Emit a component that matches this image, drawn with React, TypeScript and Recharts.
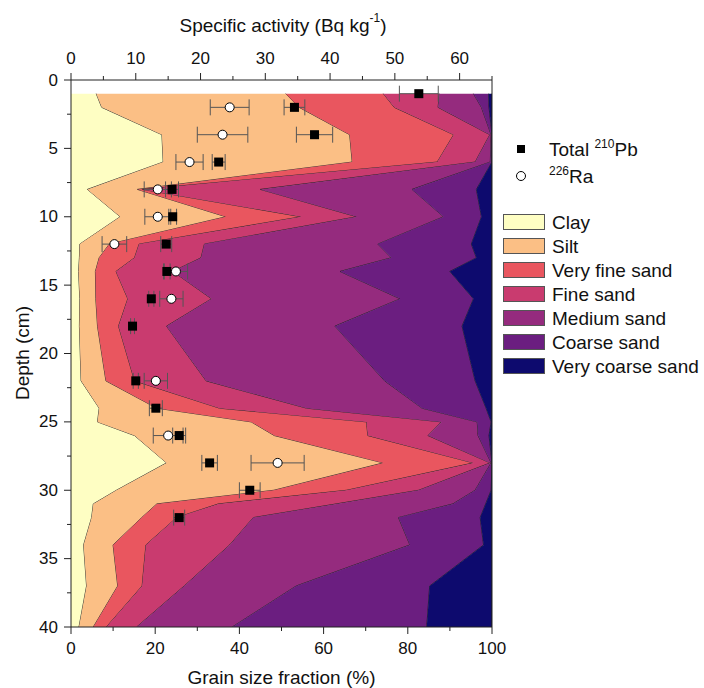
import {
  ComposedChart,
  Area,
  Scatter,
  XAxis,
  YAxis,
  ErrorBar,
  ReferenceLine,
  Legend,
} from 'recharts';

const FONT = 'Arial, "Liberation Sans", Helvetica, sans-serif';

// grain size sampling depths (cm) and fractions (%) per class
const depths = [1, 2, 4, 6, 8, 10, 12, 13, 14, 16, 18, 22, 24, 25, 26, 28, 30, 31, 32, 34, 37, 40];
const clay = [6.0, 7.3, 21.6, 21.9, 3.9, 11.7, 2.1, 2.0, 1.8, 2.1, 2.0, 2.4, 6.7, 6.3, 15.1, 22.7, 10.8, 5.3, 4.9, 3.0, 3.7, 1.9];
const silt = [45.0, 46.9, 44.6, 44.9, 11.9, 25.1, 7.0, 4.7, 4.0, 3.8, 4.3, 5.9, 13.7, 36.5, 33.2, 51.5, 37.4, 15.1, 11.9, 7.0, 7.4, 3.4];
const veryFineSand = [23.2, 22.6, 24.7, 20.2, 1.2, 17.9, 7.1, 8.4, 4.9, 7.6, 5.0, 6.8, 14.9, 27.4, 22.2, 21.4, 17.3, 14.6, 8.3, 7.8, 5.8, 3.1];
const fineSand = [13.3, 10.4, 8.6, 9.0, 28.0, 13.2, 15.5, 15.8, 13.5, 19.9, 11.4, 17.0, 20.7, 17.8, 14.3, 4.0, 17.1, 28.0, 18.2, 19.9, 10.0, 7.2];
const mediumSand = [8.1, 10.3, 0.3, 3.6, 36.0, 20.6, 41.2, 45.2, 39.7, 44.8, 40.0, 42.4, 27.4, 8.5, 11.9, 0.2, 13.4, 27.7, 34.5, 42.8, 26.6, 22.7];
const coarseSand = [3.6, 1.8, 0.2, 0.4, 15.3, 9.0, 22.2, 20.2, 26.1, 17.4, 30.2, 21.5, 15.2, 3.3, 2.6, 0.2, 3.8, 7.8, 19.4, 17.5, 31.7, 46.2];
const veryCoarseSand = [0.8, 0.7, 0.0, 0.0, 3.7, 2.5, 4.9, 3.7, 10.0, 4.4, 7.1, 4.0, 1.4, 0.2, 0.7, 0.0, 0.2, 1.5, 2.8, 2.0, 14.8, 15.5];

// specific activity (Bq/kg) with 1-sigma errors
const pbDepth = [1, 2, 4, 6, 8, 10, 12, 14, 16, 18, 22, 24, 26, 28, 30, 32];
const pbActivity = [53.7, 34.5, 37.6, 22.8, 15.6, 15.7, 14.7, 14.8, 12.4, 9.5, 10.0, 13.1, 16.7, 21.4, 27.6, 16.7];
const pbError = [3.0, 1.6, 2.8, 1.0, 1.0, 0.6, 0.85, 0.5, 0.4, 0.3, 0.4, 1.0, 1.0, 1.2, 1.6, 0.85];

const raDepth = [2, 4, 6, 8, 10, 12, 14, 16, 22, 26, 28];
const raActivity = [24.5, 23.4, 18.3, 13.4, 13.4, 6.7, 16.2, 15.5, 13.1, 15.0, 31.9];
const raError = [3.0, 3.9, 2.1, 2.1, 2.0, 1.9, 1.8, 1.8, 1.8, 2.3, 4.1];

const depthTicks = [0, 2.5, 5, 7.5, 10, 12.5, 15, 17.5, 20, 22.5, 25, 27.5, 30, 32.5, 35, 37.5, 40];
const grainTicks = [0, 10, 20, 30, 40, 50, 60, 70, 80, 90, 100];
const activityTicks = [0, 5, 10, 15, 20, 25, 30, 35, 40, 45, 50, 55, 60, 65];

const grainClasses = [
  { key: 'clay', name: 'Clay', color: '#FEFEC3', values: clay },
  { key: 'silt', name: 'Silt', color: '#FBBF85', values: silt },
  { key: 'vfs', name: 'Very fine sand', color: '#E9565F', values: veryFineSand },
  { key: 'fs', name: 'Fine sand', color: '#C93B6F', values: fineSand },
  { key: 'ms', name: 'Medium sand', color: '#952B7E', values: mediumSand },
  { key: 'cs', name: 'Coarse sand', color: '#6B1E80', values: coarseSand },
  { key: 'vcs', name: 'Very coarse sand', color: '#0D0A6E', values: veryCoarseSand },
];

const grainData = depths.map((depth, i) => {
  const row: Record<string, number> = { depth };
  grainClasses.forEach((c) => {
    row[c.key] = c.values[i];
  });
  return row;
});

const pbData = pbDepth.map((depth, i) => ({ depth, activity: pbActivity[i], err: pbError[i] }));
const raData = raDepth.map((depth, i) => ({ depth, activity: raActivity[i], err: raError[i] }));

const AXIS_COLOR = '#222';

function DepthTick(props: any) {
  const { x, y, payload } = props;
  const major = payload.value % 5 === 0;
  return (
    <g>
      <line x1={x} x2={x - (major ? 7 : 4)} y1={y} y2={y} stroke={AXIS_COLOR} />
      {major && (
        <text x={x - 13} y={y} textAnchor="end" dominantBaseline="central" fontSize={17} fontFamily={FONT} fill="#111">
          {payload.value}
        </text>
      )}
    </g>
  );
}

function GrainTick(props: any) {
  const { x, y, payload } = props;
  const major = payload.value % 20 === 0;
  return (
    <g>
      <line x1={x} x2={x} y1={y} y2={y + (major ? 7 : 4)} stroke={AXIS_COLOR} />
      {major && (
        <text x={x} y={y + 21} textAnchor="middle" dominantBaseline="central" fontSize={17} fontFamily={FONT} fill="#111">
          {payload.value}
        </text>
      )}
    </g>
  );
}

function ActivityTick(props: any) {
  const { x, y, payload } = props;
  const major = payload.value % 10 === 0;
  return (
    <g>
      <line x1={x} x2={x} y1={y} y2={y - (major ? 7 : 4)} stroke={AXIS_COLOR} />
      {major && (
        <text x={x} y={y - 22} textAnchor="middle" dominantBaseline="central" fontSize={17} fontFamily={FONT} fill="#111">
          {payload.value}
        </text>
      )}
    </g>
  );
}

const SquareShape = (p: any) => <rect x={p.cx - 4.5} y={p.cy - 4.5} width={9} height={9} fill="#000" />;
const CircleShape = (p: any) => <circle cx={p.cx} cy={p.cy} r={4.5} fill="#fff" stroke="#000" strokeWidth={1} />;

function renderLegend() {
  return (
    <div style={{ fontFamily: FONT, fontSize: 19, color: '#111', lineHeight: 1 }}>
      <div style={{ display: 'flex', alignItems: 'center', height: 26 }}>
        <svg width={54} height={26}>
          <rect x={22} y={9} width={8} height={8} fill="#000" />
        </svg>
        <span>
          Total <span style={{ fontSize: 12, position: 'relative', top: -8 }}>210</span>Pb
        </span>
      </div>
      <div style={{ display: 'flex', alignItems: 'center', height: 28 }}>
        <svg width={54} height={28}>
          <circle cx={26} cy={14} r={4.5} fill="#fff" stroke="#000" />
        </svg>
        <span>
          <span style={{ fontSize: 12, position: 'relative', top: -8 }}>226</span>Ra
        </span>
      </div>
      <div style={{ height: 20 }} />
      {grainClasses.map((c) => (
        <div key={c.key} style={{ display: 'flex', alignItems: 'center', height: 24 }}>
          <div
            style={{
              marginLeft: 8,
              width: 42,
              height: 16,
              boxSizing: 'border-box',
              border: '1px solid #555',
              background: c.color,
            }}
          />
          <span style={{ marginLeft: 7, whiteSpace: 'nowrap' }}>{c.name}</span>
        </div>
      ))}
    </div>
  );
}

export default function App() {
  return (
    <div style={{ position: 'absolute', left: 0, top: 0, width: 704, height: 688, background: '#fff' }}>
      <ComposedChart
        width={704}
        height={688}
        data={grainData}
        layout="vertical"
        margin={{ top: 0, right: 212, bottom: 0, left: 0 }}
      >
        <XAxis
          xAxisId="grain"
          type="number"
          orientation="bottom"
          domain={[0, 100]}
          ticks={grainTicks}
          interval={0}
          height={61}
          tickSize={0}
          tickMargin={0}
          tickLine={false}
          tick={<GrainTick />}
          axisLine={{ stroke: AXIS_COLOR }}
          allowDataOverflow
          label={(p: any) => (
            <text x={281.5} y={677} textAnchor="middle" dominantBaseline="central" fontSize={19} fontFamily={FONT} fill="#111">
              Grain size fraction (%)
            </text>
          )}
        />
        <XAxis
          xAxisId="act"
          type="number"
          orientation="top"
          dataKey="activity"
          domain={[0, 65]}
          ticks={activityTicks}
          interval={0}
          height={80}
          tickSize={0}
          tickMargin={0}
          tickLine={false}
          tick={<ActivityTick />}
          axisLine={{ stroke: AXIS_COLOR }}
          allowDataOverflow
          label={(p: any) => (
            <text x={283} y={25} textAnchor="middle" dominantBaseline="central" fontSize={19} fontFamily={FONT} fill="#111">
              <tspan>Specific activity (Bq kg</tspan>
              <tspan dy={-7} fontSize={12}>-1</tspan>
              <tspan dy={7}>)</tspan>
            </text>
          )}
        />
        <YAxis
          yAxisId="depth"
          type="number"
          dataKey="depth"
          domain={[0, 40]}
          ticks={depthTicks}
          interval={0}
          width={71}
          tickSize={0}
          tickMargin={0}
          tickLine={false}
          tick={<DepthTick />}
          axisLine={{ stroke: AXIS_COLOR }}
          allowDataOverflow
          label={(p: any) => (
            <text
              x={22}
              y={353}
              transform="rotate(-90 22 353)"
              textAnchor="middle"
              dominantBaseline="central"
              fontSize={19}
              fontFamily={FONT}
              fill="#111"
            >
              Depth (cm)
            </text>
          )}
        />
        {grainClasses.map((c) => (
          <Area
            key={c.key}
            xAxisId="grain"
            yAxisId="depth"
            dataKey={c.key}
            name={c.name}
            stackId="grain"
            type="linear"
            fill={c.color}
            fillOpacity={1}
            stroke="#1b1b1b"
            strokeWidth={1}
            strokeOpacity={0.85}
            dot={false}
            activeDot={false}
            isAnimationActive={false}
          />
        ))}
        <ReferenceLine xAxisId="grain" yAxisId="depth" x={100} stroke={AXIS_COLOR} />
        <Scatter
          xAxisId="act"
          yAxisId="depth"
          name="Total 210Pb"
          data={pbData}
          dataKey="activity"
          shape={SquareShape}
          isAnimationActive={false}
        >
          <ErrorBar dataKey="err" direction="x" width={8} stroke="#555" strokeWidth={1} />
        </Scatter>
        <Scatter
          xAxisId="act"
          yAxisId="depth"
          name="226Ra"
          data={raData}
          dataKey="activity"
          shape={CircleShape}
          isAnimationActive={false}
        >
          <ErrorBar dataKey="err" direction="x" width={8} stroke="#555" strokeWidth={1} />
        </Scatter>
        <Legend
          layout="vertical"
          align="center"
          verticalAlign="middle"
          content={renderLegend}
          wrapperStyle={{ left: 495, top: 136, width: 209 }}
        />
      </ComposedChart>
    </div>
  );
}
